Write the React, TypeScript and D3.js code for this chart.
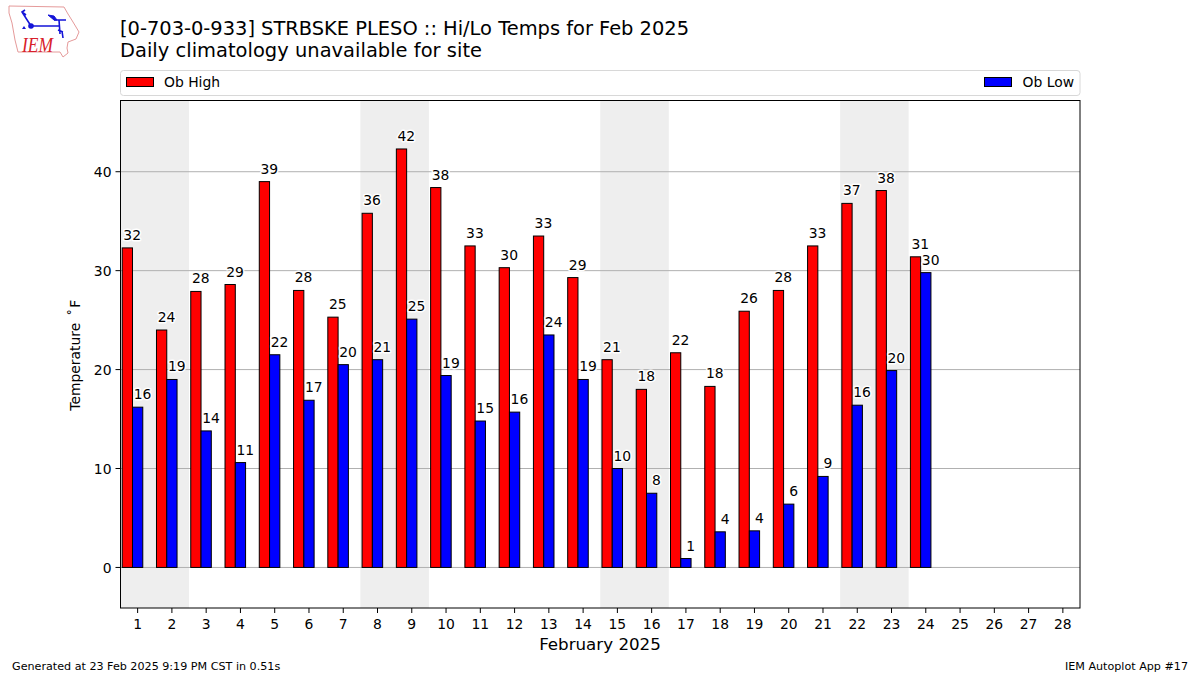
import React from 'react';
import * as d3 from 'd3';

const days = d3.range(1, 29);
const highs = [32.3, 24, 27.9, 28.6, 39, 28, 25.3, 35.8, 42.3, 38.4, 32.5, 30.3, 33.5, 29.3, 21, 18, 21.7, 18.3, 25.9, 28, 32.5, 36.8, 38.1, 31.4];
const lows = [16.2, 19, 13.8, 10.6, 21.5, 16.9, 20.5, 21, 25.1, 19.4, 14.8, 15.7, 23.5, 19, 10, 7.5, 0.9, 3.6, 3.7, 6.4, 9.2, 16.4, 19.9, 29.8];
const highLabels = [32, 24, 28, 29, 39, 28, 25, 36, 42, 38, 33, 30, 33, 29, 21, 18, 22, 18, 26, 28, 33, 37, 38, 31];
const lowLabels = [16, 19, 14, 11, 22, 17, 20, 21, 25, 19, 15, 16, 24, 19, 10, 8, 1, 4, 4, 6, 9, 16, 20, 30];
const weekends = [[1, 2], [8, 9], [15, 16], [22, 23]];
const yTicks = [0, 10, 20, 30, 40];

const left = 120.5;
const right = 1080;
const top = 100.5;
const bottom = 608;
const barW = 0.3;

const x = d3.scaleLinear().domain([0.5, 28.5]).range([left, right]);
const y = d3.scaleLinear().domain([-4.1, 47.2]).range([bottom, top]);

const font = '"DejaVu Sans", sans-serif';

const Bars = ({ values, offset, fill }: { values: number[]; offset: number; fill: string }) => (
  <g>
    {values.map((v, i) => (
      <rect key={i} x={x(days[i] + offset)} y={y(v)} width={x(barW) - x(0)} height={y(0) - y(v)} fill={fill} stroke="#000" strokeWidth={1} />
    ))}
  </g>
);

// value labels have a white halo that breaks the grid lines
const BarLabels = ({ values, labels, offset }: { values: number[]; labels: number[]; offset: number }) => (
  <g>
    {values.map((v, i) => (
      <text key={i} x={x(days[i] + offset) + 10} y={y(v) - 8} fontSize={13.9} textAnchor="middle" stroke="#fff" strokeWidth={3} strokeLinejoin="round" paintOrder="stroke">{labels[i]}</text>
    ))}
  </g>
);

// rough copy of the IEM logo
const Logo = () => (
  <g>
    <path d="M9 6 L64 7 L68 14 L73 22 L79 32 L76 39 L68 42 L67 48 L68 53 L63 57 L60 52 L18 52 L15 40 L12 23 L9 13 Z" fill="#fff" stroke="#e59a9a" strokeWidth={1} />
    <path d="M31 26 L59 26 M31 26 L22 12 L25 10 M22 12 L26 15 M54 20 L66 20 M59 20 L60 34 M58 30 L63 32 M62 31 L63 38" fill="none" stroke="#1414d8" strokeWidth={1.6} />
    <path d="M48 15 L54 16 L57 20 L54 20 Z" fill="#1414d8" stroke="#1414d8" />
    <circle cx={31} cy={26} r={2.8} fill="#1414d8" />
    <path d="M24 26 L26 29 L22 29 Z" fill="#1414d8" />
    <text x={22} y={52} fontSize={22} fontStyle="italic" fontFamily='"Liberation Serif", serif' fill="#d8202a" textLength={31} lengthAdjust="spacingAndGlyphs">IEM</text>
  </g>
);

export default function App() {
  return (
    <svg width={1200} height={675} style={{ position: 'absolute', left: 0, top: 0 }} fontFamily={font} fill="#000">
      <rect width={1200} height={675} fill="#fff" />
      <Logo />
      <text x={120} y={35} fontSize={19.45} textLength={569}>[0-703-0-933] STRBSKE PLESO :: Hi/Lo Temps for Feb 2025</text>
      <text x={120} y={57} fontSize={19.45} textLength={362}>Daily climatology unavailable for site</text>

      <rect x={120.5} y={70.5} width={959.5} height={25} rx={3} fill="#fff" stroke="#d8d8d8" />
      <rect x={126.5} y={77.5} width={27} height={9} fill="#f00" stroke="#000" />
      <text x={164} y={86.5} fontSize={13.9}>Ob High</text>
      <rect x={984.5} y={77.5} width={27} height={9} fill="#00f" stroke="#000" />
      <text x={1074} y={86.5} fontSize={13.9} textAnchor="end">Ob Low</text>

      {weekends.map(([a, b]) => (
        <rect key={a} x={x(a - 0.5)} y={top} width={x(b + 0.5) - x(a - 0.5)} height={bottom - top} fill="#eeeeee" />
      ))}
      {yTicks.map(t => (
        <line key={t} x1={left} x2={right} y1={y(t)} y2={y(t)} stroke="#b0b0b0" strokeWidth={1} />
      ))}
      <Bars values={highs} offset={-0.45} fill="#f00" />
      <Bars values={lows} offset={-0.15} fill="#00f" />
      <BarLabels values={highs} labels={highLabels} offset={-0.45} />
      <BarLabels values={lows} labels={lowLabels} offset={-0.15} />
      <rect x={left} y={top} width={right - left} height={bottom - top} fill="none" stroke="#000" strokeWidth={1} />

      {yTicks.map(t => (
        <g key={t}>
          <line x1={left - 5} x2={left} y1={y(t)} y2={y(t)} stroke="#000" />
          <text x={left - 9} y={y(t) + 5.5} fontSize={13.9} textAnchor="end">{t}</text>
        </g>
      ))}
      {days.map(d => (
        <g key={d}>
          <line x1={x(d)} x2={x(d)} y1={bottom} y2={bottom + 5} stroke="#000" />
          <text x={x(d)} y={bottom + 21} fontSize={13.9} textAnchor="middle">{d}</text>
        </g>
      ))}
      <text x={600} y={649.5} fontSize={16.7} textAnchor="middle">February 2025</text>
      <text transform={`translate(80,${(top + bottom) / 2 + 1}) rotate(-90)`} fontSize={13.9} textAnchor="middle">Temperature<tspan dx={7}>˚</tspan><tspan dx={1}>F</tspan></text>

      <text x={12} y={670} fontSize={11.15}>Generated at 23 Feb 2025 9:19 PM CST in 0.51s</text>
      <text x={1188} y={670} fontSize={11.15} textAnchor="end">IEM Autoplot App #17</text>
    </svg>
  );
}
